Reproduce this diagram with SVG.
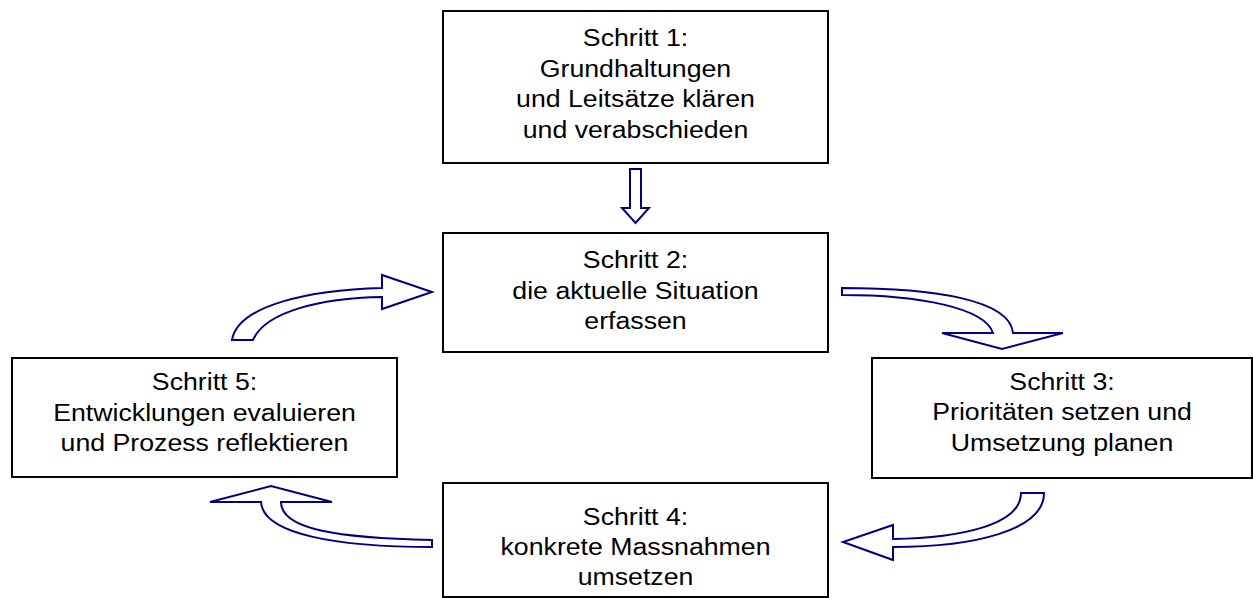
<svg xmlns="http://www.w3.org/2000/svg" width="1253" height="598" viewBox="0 0 1253 598">
<style>
.box{fill:#fff;stroke:#000;stroke-width:2}
.arr{fill:#fff;stroke:#000080;stroke-width:2;stroke-linejoin:miter}
text{font-family:"Liberation Sans",Arial,sans-serif;font-size:24.5px;fill:#000;text-anchor:middle}
</style>
<rect width="1253" height="598" fill="#fff"/>
<g id="connectors">
<path class="arr" d="M630,169 H641 V208 H649 L635.5,223 L622,208 H630 Z"/>
<path class="arr" d="M232,340 C238,305 310,290 382,288 V275 L432,292 L382,309 V297 C320,298 265,312 253,340 Z"/>
<path class="arr" d="M842,288 C935,288 1010,300 1013,333 H1063 L1002,349 L942,333 H993 C985,308 920,295 842,295 Z"/>
<path class="arr" d="M1021,493 C1021,525 960,538 893,539 V525 L843,542 L893,560 V547 C975,547 1044,530 1044,493 Z"/>
<path class="arr" d="M432,540 C340,538 281,530 281,502 H332 L271,486 L210,502 H261 C263,535 340,547 432,547 Z"/>
</g>
<g id="step1">
<rect class="box" x="443" y="11" width="385" height="152"/>
<g transform="translate(635.5,0) scale(1.09,1)">
<text x="0" y="46">Schritt 1:</text>
<text x="0" y="77">Grundhaltungen</text>
<text x="0" y="107">und Leitsätze klären</text>
<text x="0" y="138">und verabschieden</text>
</g>
</g>
<g id="step2">
<rect class="box" x="443" y="233" width="385" height="119"/>
<g transform="translate(635.5,0) scale(1.09,1)">
<text x="0" y="268">Schritt 2:</text>
<text x="0" y="299">die aktuelle Situation</text>
<text x="0" y="329">erfassen</text>
</g>
</g>
<g id="step3">
<rect class="box" x="872" y="358" width="380" height="120"/>
<g transform="translate(1062,0) scale(1.09,1)">
<text x="0" y="390">Schritt 3:</text>
<text x="0" y="420.5">Prioritäten setzen und</text>
<text x="0" y="451">Umsetzung planen</text>
</g>
</g>
<g id="step4">
<rect class="box" x="443" y="483" width="385" height="114"/>
<g transform="translate(635.5,0) scale(1.09,1)">
<text x="0" y="525">Schritt 4:</text>
<text x="0" y="555">konkrete Massnahmen</text>
<text x="0" y="585">umsetzen</text>
</g>
</g>
<g id="step5">
<rect class="box" x="12" y="358" width="385" height="119"/>
<g transform="translate(204.5,0) scale(1.09,1)">
<text x="0" y="390">Schritt 5:</text>
<text x="0" y="421">Entwicklungen evaluieren</text>
<text x="0" y="451.5">und Prozess reflektieren</text>
</g>
</g>
</svg>
